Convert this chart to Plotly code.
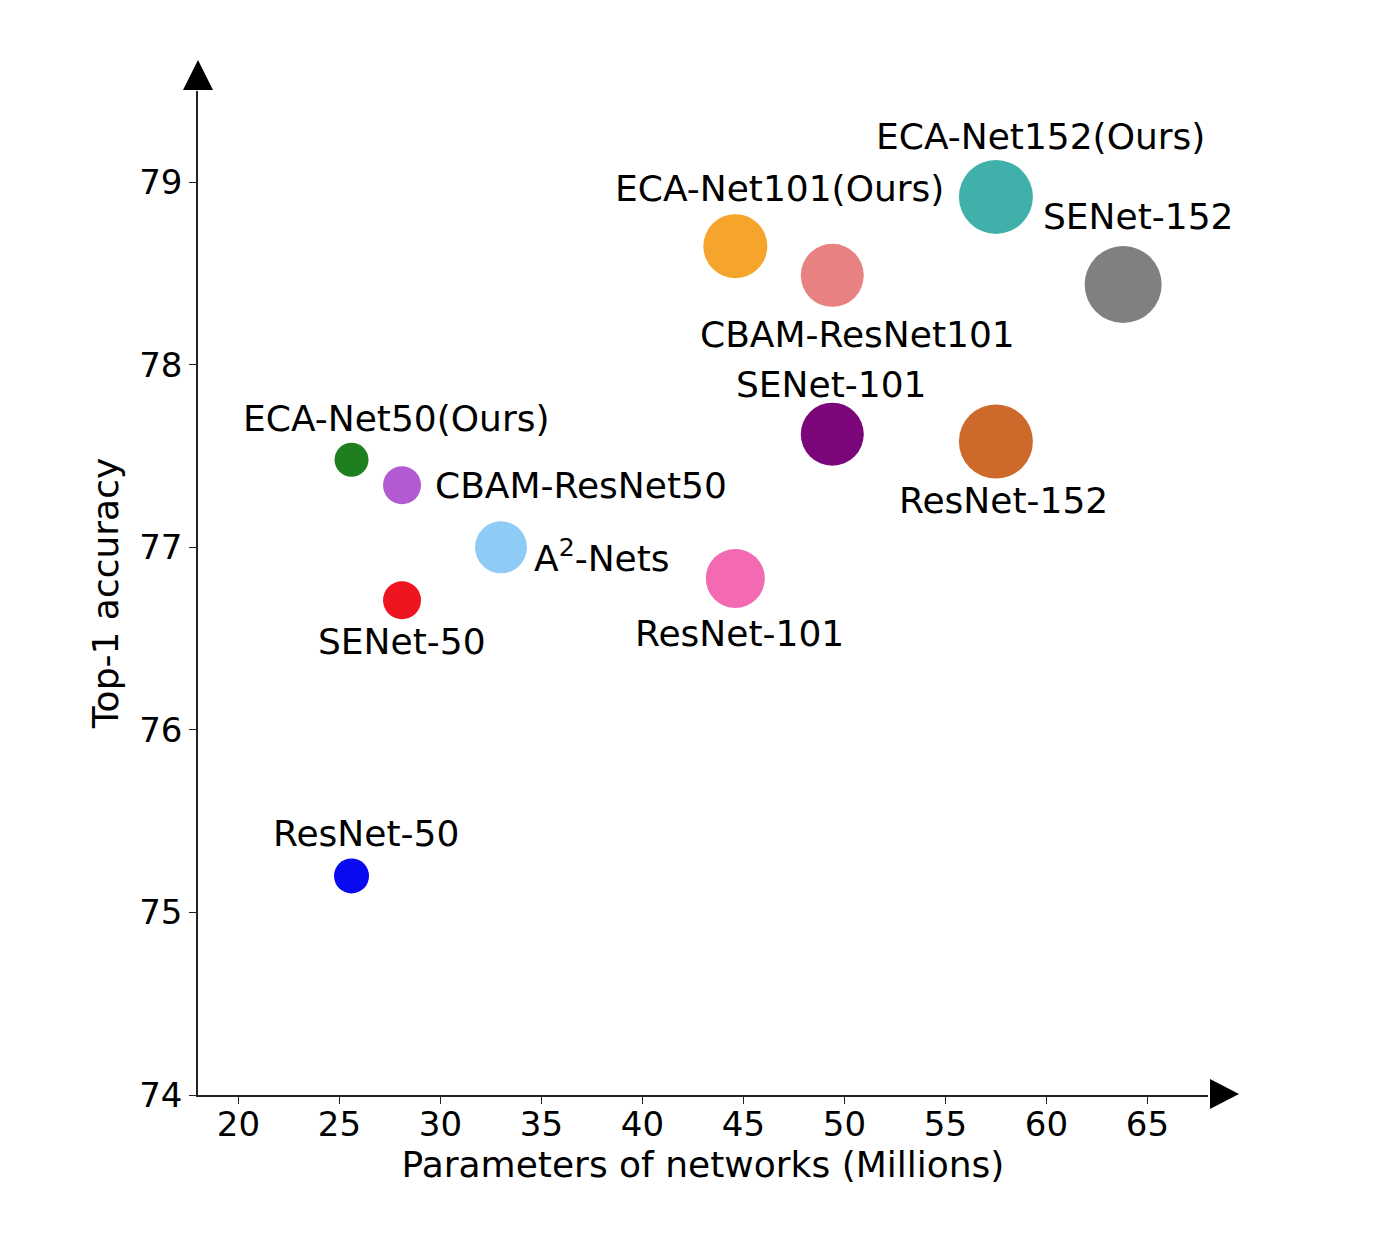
import plotly.graph_objects as go

# ---------------- data ----------------
models = ["ResNet-50", "ECA-Net50(Ours)", "CBAM-ResNet50", "SENet-50", "A<sup>2</sup>-Nets",
          "ResNet-101", "ECA-Net101(Ours)", "CBAM-ResNet101", "SENet-101",
          "ResNet-152", "ECA-Net152(Ours)", "SENet-152"]
params_m = [25.6, 25.6, 28.1, 28.1, 33.0, 44.6, 44.6, 49.4, 49.4, 57.5, 57.5, 63.8]
top1_acc = [75.20, 77.48, 77.34, 76.71, 77.00, 76.83, 78.65, 78.49, 77.62, 77.58, 78.92, 78.44]
x_ticks = [20, 25, 30, 35, 40, 45, 50, 55, 60, 65]
y_ticks = [74, 75, 76, 77, 78, 79]

# ---------------- style ----------------
colors = ["#0a0af0", "#1f7f1f", "#b35ad3", "#ee1520", "#8ecbf5",
          "#f46ab2", "#f6a52c", "#e88282", "#7a067a",
          "#cd6a2b", "#3fb0aa", "#808080"]
marker_px = [35, 34, 38, 38, 52, 59, 64, 63, 63, 74, 74, 77]
# label offsets in pixels (dx right, dy down) and anchor
label_off = [(14, -42, "center"), (45, -41, "center"), (31, 0, "left"), (0, 41, "center"),
             (31, 9, "left"), (4, 55, "center"), (44, -58, "center"), (25, 59, "center"),
             (-1, -50, "center"), (8, 59, "center"), (45, -60, "center"), (15, -68, "center")]

W, H = 1394, 1246
L, R, T, B = 190, 194, 83, 159
PW, PH = W - L - R, H - T - B
FONT = "DejaVu Sans"
AX = "#222222"
LABEL_SIZE = 36

def px2paper(px, py):
    return (px - L) / PW, (H - B - py) / PH

fig = go.Figure()
fig.add_trace(go.Scatter(
    x=params_m, y=top1_acc, mode="markers",
    marker=dict(size=marker_px, color=colors, line=dict(width=0), opacity=1),
    showlegend=False, hoverinfo="skip", cliponaxis=False))

annotations = []
for name, xv, yv, (dx, dy, anc) in zip(models, params_m, top1_acc, label_off):
    annotations.append(dict(x=xv, y=yv, xref="x", yref="y", text=name, showarrow=False,
                            xanchor=anc, yanchor="middle", xshift=dx, yshift=-dy,
                            font=dict(family=FONT, size=LABEL_SIZE, color="black")))

# arrow heads at the ends of the axes
ax_left_x = L
ax_top_y = T
ax_bottom_y = H - B
ax_right_x = W - R
up = [(ax_left_x, ax_top_y - 31), (ax_left_x - 15, ax_top_y - 1), (ax_left_x + 15, ax_top_y - 1)]
right = [(ax_right_x + 31, ax_bottom_y - 1), (ax_right_x + 2, ax_bottom_y - 16), (ax_right_x + 2, ax_bottom_y + 14)]

def tri_path(pts):
    p = [px2paper(*q) for q in pts]
    return "M {} {} L {} {} L {} {} Z".format(p[0][0], p[0][1], p[1][0], p[1][1], p[2][0], p[2][1])

shapes = [
    dict(type="path", xref="paper", yref="paper", path=tri_path(up), fillcolor="black", line=dict(width=0)),
    dict(type="path", xref="paper", yref="paper", path=tri_path(right), fillcolor="black", line=dict(width=0)),
]

fig.update_layout(
    width=W, height=H,
    margin=dict(l=L, r=R, t=T, b=B, pad=0),
    paper_bgcolor="white", plot_bgcolor="white",
    font=dict(family=FONT, size=34, color="black"),
    annotations=annotations, shapes=shapes,
    xaxis=dict(range=[18, 68], tickvals=x_ticks, ticktext=[str(v) for v in x_ticks],
               showgrid=False, zeroline=False, showline=True, linecolor=AX, linewidth=1.6,
               ticks="outside", ticklen=7, tickwidth=1.4, tickcolor=AX,
               ticklabelstandoff=-9,
               tickfont=dict(family=FONT, size=34, color="black"),
               title=dict(text="Parameters of networks (Millions)", standoff=9,
                          font=dict(family=FONT, size=36, color="black"))),
    yaxis=dict(range=[74, 79.5], tickvals=y_ticks, ticktext=[str(v) for v in y_ticks],
               showgrid=False, zeroline=False, showline=True, linecolor=AX, linewidth=1.6,
               ticks="outside", ticklen=7, tickwidth=1.4, tickcolor=AX,
               tickfont=dict(family=FONT, size=34, color="black"),
               title=dict(text="Top-1 accuracy", standoff=10,
                          font=dict(family=FONT, size=36, color="black"))),
)

fig.write_html("out.html")
